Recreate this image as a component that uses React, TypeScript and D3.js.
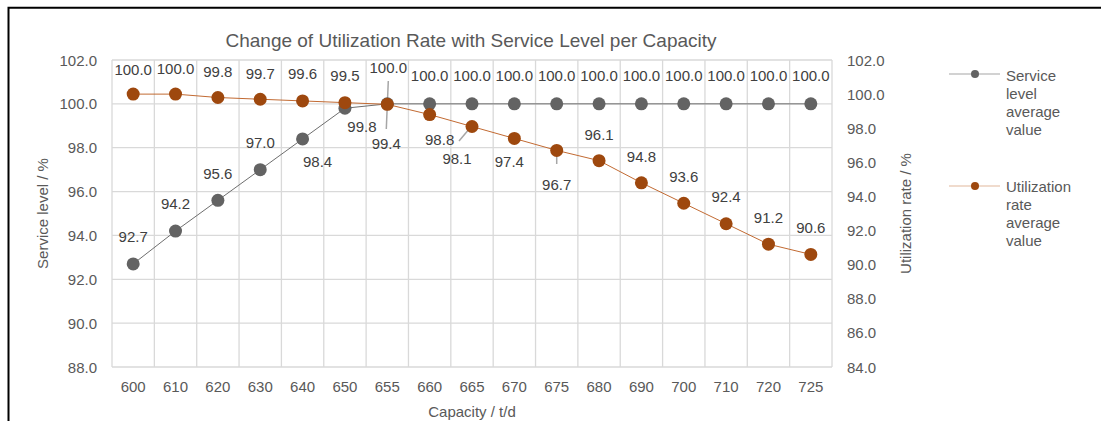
import React from "react";
import * as d3 from "d3";

const categories = ["600", "610", "620", "630", "640", "650", "655", "660", "665", "670", "675", "680", "690", "700", "710", "720", "725"];
const serviceLevel = [92.7, 94.2, 95.6, 97.0, 98.4, 99.8, 100.0, 100.0, 100.0, 100.0, 100.0, 100.0, 100.0, 100.0, 100.0, 100.0, 100.0];
const utilization = [100.0, 100.0, 99.8, 99.7, 99.6, 99.5, 99.4, 98.8, 98.1, 97.4, 96.7, 96.1, 94.8, 93.6, 92.4, 91.2, 90.6];
const leftTicks = [88, 90, 92, 94, 96, 98, 100, 102];
const rightTicks = [84, 86, 88, 90, 92, 94, 96, 98, 100, 102];

// label placement (offsets from marker centre)
const serviceLabelOffsets: [number, number][] = [
  [0, -27], [0, -28], [0, -27], [0, -27], [15, 23], [17, 18], [1, -36],
  [0, -28], [0, -28], [0, -28], [0, -28], [0, -28], [0, -28], [0, -28], [0, -28], [0, -28], [0, -28],
];
const utilLabelOffsets: [number, number][] = [
  [0, -25], [0, -26], [0, -26], [0, -26], [0, -27], [0, -27], [-1, 39],
  [10, 25], [-15, 32], [-5, 23], [0, 34], [0, -26], [0, -26], [0, -27], [0, -27], [0, -27], [0, -27],
];

const W = 1101;
const H = 421;
const plot = { left: 112, right: 832, top: 60, bottom: 367 };
const textColor = "#595959";
const grid = "#d9d9d9";
const grayMarker = "#636363";
const orangeMarker = "#9E480E";
const font = "'Liberation Sans', Arial, sans-serif";

export default function App() {
  const x = d3.scaleBand<string>().domain(categories).range([plot.left, plot.right]).padding(0);
  const yL = d3.scaleLinear().domain([88, 102]).range([plot.bottom, plot.top]);
  const yR = d3.scaleLinear().domain([84, 102]).range([plot.bottom, plot.top]);
  const cx = (c: string) => (x(c) as number) + x.bandwidth() / 2;

  const sLine = d3.line<number>().x((_, i) => cx(categories[i])).y((d) => yL(d));
  const uLine = d3.line<number>().x((_, i) => cx(categories[i])).y((d) => yR(d));

  const boundaries = categories.map((c) => x(c) as number).concat([plot.right]);

  return (
    <svg width={W} height={H} style={{ position: "absolute", left: 0, top: 0, background: "#fff" }} fontFamily={font}>
      <rect x={0} y={0} width={W} height={H} fill="#fff" />
      {/* outer border */}
      <path d={`M8.5,${H} V7.8 H${W}`} fill="none" stroke="#000" strokeWidth={2} />

      {/* title */}
      <text x={471} y={40} textAnchor="middle" dominantBaseline="central" fontSize={19} fill={textColor}>
        Change of Utilization Rate with Service Level per Capacity
      </text>

      {/* gridlines */}
      {leftTicks.map((t) => (
        <line key={"h" + t} x1={plot.left} x2={plot.right} y1={yL(t)} y2={yL(t)} stroke={grid} strokeWidth={1.3} />
      ))}
      {boundaries.map((b, i) => (
        <line key={"v" + i} x1={b} x2={b} y1={plot.top} y2={plot.bottom} stroke={grid} strokeWidth={1.3} />
      ))}

      {/* left ticks */}
      {leftTicks.map((t) => (
        <text key={"l" + t} x={97} y={yL(t)} textAnchor="end" dominantBaseline="central" fontSize={15} fill={textColor}>
          {d3.format(".1f")(t)}
        </text>
      ))}
      {/* right ticks */}
      {rightTicks.map((t) => (
        <text key={"r" + t} x={847} y={yR(t)} textAnchor="start" dominantBaseline="central" fontSize={15} fill={textColor}>
          {d3.format(".1f")(t)}
        </text>
      ))}
      {/* x ticks */}
      {categories.map((c) => (
        <text key={"x" + c} x={cx(c)} y={386} textAnchor="middle" dominantBaseline="central" fontSize={15} fill={textColor}>
          {c}
        </text>
      ))}

      {/* axis titles */}
      <text x={472} y={411} textAnchor="middle" dominantBaseline="central" fontSize={15} fill={textColor}>
        Capacity / t/d
      </text>
      <text transform={`translate(42,${(plot.top + plot.bottom) / 2}) rotate(-90)`} textAnchor="middle" dominantBaseline="central" fontSize={15} fill={textColor}>
        Service level / %
      </text>
      <text transform={`translate(905,${(plot.top + plot.bottom) / 2}) rotate(-90)`} textAnchor="middle" dominantBaseline="central" fontSize={15} fill={textColor}>
        Utilization rate / %
      </text>

      {/* leader lines */}
      <line x1={cx("655") + 1} y1={81} x2={cx("655") - 1} y2={129} stroke="#a6a6a6" strokeWidth={1.5} />
      <line x1={459} y1={141} x2={470} y2={128} stroke="#a6a6a6" strokeWidth={1.5} />
      <line x1={cx("675")} y1={155} x2={cx("675")} y2={164} stroke="#a6a6a6" strokeWidth={1.5} />

      {/* lines */}
      <path d={sLine(serviceLevel) || ""} fill="none" stroke="#6e6e6e" strokeWidth={1} />
      <path d={uLine(utilization) || ""} fill="none" stroke="#c26a32" strokeWidth={1} />

      {/* markers */}
      {serviceLevel.map((v, i) => (
        <circle key={"sm" + i} cx={cx(categories[i])} cy={yL(v)} r={6.5} fill={grayMarker} />
      ))}
      {utilization.map((v, i) => (
        <circle key={"um" + i} cx={cx(categories[i])} cy={yR(v)} r={6.5} fill={orangeMarker} />
      ))}

      {/* data labels */}
      {serviceLevel.map((v, i) => (
        <text key={"sl" + i} x={cx(categories[i]) + serviceLabelOffsets[i][0]} y={yL(v) + serviceLabelOffsets[i][1]}
          textAnchor="middle" dominantBaseline="central" fontSize={15} fill="#404040">
          {d3.format(".1f")(v)}
        </text>
      ))}
      {utilization.map((v, i) => (
        <text key={"ul" + i} x={cx(categories[i]) + utilLabelOffsets[i][0]} y={yR(v) + utilLabelOffsets[i][1]}
          textAnchor="middle" dominantBaseline="central" fontSize={15} fill="#404040">
          {d3.format(".1f")(v)}
        </text>
      ))}

      {/* legend */}
      <line x1={949} x2={1000} y1={74} y2={74} stroke="#a6a6a6" strokeWidth={1.2} />
      <circle cx={975} cy={74} r={4} fill={grayMarker} />
      {["Service", "level", "average", "value"].map((t, i) => (
        <text key={"lg1" + i} x={1006} y={75 + i * 18.3} dominantBaseline="central" fontSize={15} fill={textColor}>{t}</text>
      ))}
      <line x1={949} x2={1000} y1={186} y2={186} stroke="#e2b79b" strokeWidth={1.2} />
      <circle cx={975} cy={186} r={4} fill={orangeMarker} />
      {["Utilization", "rate", "average", "value"].map((t, i) => (
        <text key={"lg2" + i} x={1006} y={186 + i * 18.3} dominantBaseline="central" fontSize={15} fill={textColor}>{t}</text>
      ))}
    </svg>
  );
}
